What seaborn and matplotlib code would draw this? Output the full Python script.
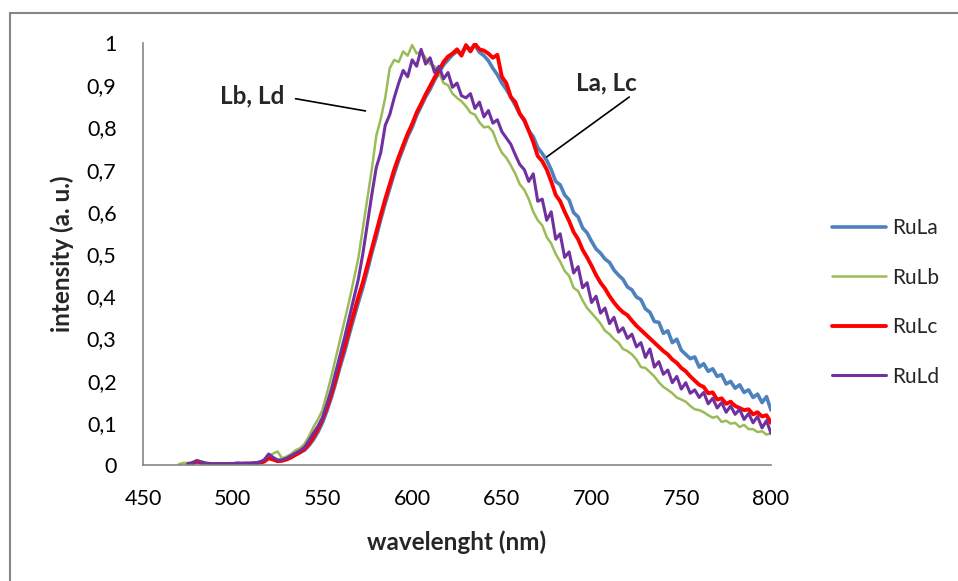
import numpy as np
import matplotlib
matplotlib.use("Agg")
import matplotlib.pyplot as plt
from matplotlib.patches import Rectangle
import seaborn as sns

# ----------------------------------------------------------------------------------
# Data (2.5 nm steps from 470 to 800 nm)

wavelength = np.arange(470, 800.1, 2.5)
nan = np.nan

ru_la = [
    nan, nan, 0.002, 0.004,
    0.010, 0.007, 0.004, 0.003,
    0.002, 0.003, 0.002, 0.003,
    0.003, 0.004, 0.003, 0.004,
    0.004, 0.005, 0.006, 0.009,
    0.020, 0.015, 0.010, 0.011,
    0.014, 0.018, 0.025, 0.030,
    0.035, 0.046, 0.060, 0.078,
    0.100, 0.128, 0.160, 0.196,
    0.235, 0.270, 0.310, 0.348,
    0.385, 0.420, 0.460, 0.502,
    0.540, 0.582, 0.620, 0.655,
    0.690, 0.722, 0.750, 0.778,
    0.800, 0.828, 0.850, 0.872,
    0.890, 0.912, 0.930, 0.948,
    0.960, 0.972, 0.980, 0.975,
    0.992, 0.985, 0.995, 0.978,
    0.970, 0.958, 0.940, 0.925,
    0.905, 0.890, 0.872, 0.852,
    0.832, 0.815, 0.792, 0.778,
    0.752, 0.738, 0.722, 0.700,
    0.672, 0.664, 0.640, 0.628,
    0.598, 0.588, 0.562, 0.550,
    0.530, 0.512, 0.502, 0.488,
    0.480, 0.462, 0.450, 0.440,
    0.422, 0.415, 0.398, 0.392,
    0.370, 0.362, 0.340, 0.338,
    0.312, 0.318, 0.290, 0.298,
    0.272, 0.262, 0.252, 0.256,
    0.232, 0.240, 0.222, 0.228,
    0.210, 0.214, 0.192, 0.198,
    0.182, 0.190, 0.172, 0.178,
    0.160, 0.168, 0.148, 0.162,
    0.130,
]

ru_lb = [
    0.002, 0.005, 0.005, 0.007,
    0.012, 0.008, 0.005, 0.004,
    0.003, 0.003, 0.003, 0.004,
    0.003, 0.004, 0.004, 0.004,
    0.004, 0.005, 0.007, 0.012,
    0.022, 0.027, 0.032, 0.016,
    0.020, 0.026, 0.035, 0.040,
    0.050, 0.068, 0.090, 0.108,
    0.130, 0.170, 0.210, 0.255,
    0.300, 0.345, 0.390, 0.440,
    0.490, 0.560, 0.630, 0.700,
    0.780, 0.820, 0.870, 0.940,
    0.960, 0.955, 0.980, 0.970,
    0.995, 0.975, 0.980, 0.965,
    0.950, 0.945, 0.930, 0.905,
    0.900, 0.880, 0.870, 0.862,
    0.850, 0.835, 0.830, 0.812,
    0.800, 0.802, 0.790, 0.762,
    0.740, 0.728, 0.710, 0.690,
    0.665, 0.652, 0.630, 0.600,
    0.580, 0.568, 0.540, 0.525,
    0.500, 0.482, 0.460, 0.448,
    0.420, 0.412, 0.390, 0.372,
    0.360, 0.348, 0.335, 0.318,
    0.310, 0.298, 0.290, 0.275,
    0.270, 0.262, 0.250, 0.232,
    0.230, 0.220, 0.210, 0.196,
    0.185, 0.178, 0.170, 0.160,
    0.155, 0.150, 0.140, 0.132,
    0.130, 0.125, 0.118, 0.112,
    0.115, 0.102, 0.105, 0.098,
    0.100, 0.090, 0.095, 0.085,
    0.085, 0.078, 0.080, 0.072,
    0.075,
]

ru_lc = [
    nan, nan, 0.001, 0.003,
    0.008, 0.005, 0.002, 0.002,
    0.001, 0.002, 0.002, 0.002,
    0.002, 0.003, 0.003, 0.003,
    0.003, 0.004, 0.005, 0.008,
    0.016, 0.013, 0.009, 0.010,
    0.013, 0.018, 0.024, 0.030,
    0.038, 0.050, 0.066, 0.085,
    0.108, 0.136, 0.168, 0.205,
    0.245, 0.282, 0.322, 0.360,
    0.398, 0.432, 0.472, 0.512,
    0.552, 0.592, 0.630, 0.665,
    0.700, 0.730, 0.758, 0.785,
    0.808, 0.835, 0.856, 0.878,
    0.898, 0.918, 0.935, 0.955,
    0.968, 0.975, 0.985, 0.970,
    0.995, 0.980, 0.998, 0.985,
    0.982, 0.975, 0.965, 0.972,
    0.920, 0.905, 0.872, 0.860,
    0.832, 0.818, 0.792, 0.765,
    0.732, 0.720, 0.700, 0.672,
    0.640, 0.625, 0.600, 0.578,
    0.552, 0.535, 0.510, 0.492,
    0.472, 0.450, 0.432, 0.418,
    0.400, 0.385, 0.372, 0.362,
    0.355, 0.342, 0.330, 0.320,
    0.310, 0.300, 0.290, 0.280,
    0.270, 0.262, 0.250, 0.242,
    0.230, 0.222, 0.210, 0.200,
    0.190, 0.185, 0.170, 0.172,
    0.155, 0.158, 0.145, 0.150,
    0.140, 0.135, 0.130, 0.132,
    0.120, 0.125, 0.115, 0.118,
    0.100,
]

ru_ld = [
    nan, nan, 0.003, 0.005,
    0.010, 0.007, 0.004, 0.003,
    0.003, 0.003, 0.003, 0.003,
    0.003, 0.004, 0.004, 0.004,
    0.004, 0.005, 0.007, 0.012,
    0.026, 0.018, 0.012, 0.012,
    0.016, 0.022, 0.028, 0.034,
    0.042, 0.058, 0.076, 0.092,
    0.112, 0.145, 0.180, 0.222,
    0.265, 0.305, 0.350, 0.395,
    0.440, 0.500, 0.570, 0.640,
    0.705, 0.740, 0.805, 0.830,
    0.870, 0.905, 0.935, 0.920,
    0.960, 0.945, 0.985, 0.950,
    0.965, 0.930, 0.945, 0.915,
    0.930, 0.895, 0.905, 0.875,
    0.870, 0.880, 0.845, 0.860,
    0.825, 0.840, 0.810, 0.818,
    0.790, 0.775, 0.760, 0.735,
    0.712, 0.700, 0.672, 0.690,
    0.625, 0.630, 0.580, 0.600,
    0.535, 0.548, 0.492, 0.505,
    0.455, 0.470, 0.420, 0.432,
    0.385, 0.400, 0.360, 0.372,
    0.335, 0.350, 0.315, 0.325,
    0.300, 0.310, 0.280, 0.290,
    0.255, 0.275, 0.232, 0.245,
    0.215, 0.225, 0.195, 0.210,
    0.180, 0.195, 0.170, 0.178,
    0.160, 0.172, 0.145, 0.158,
    0.135, 0.148, 0.125, 0.140,
    0.120, 0.132, 0.108, 0.122,
    0.100, 0.115, 0.088, 0.105,
    0.075,
]

series = ["RuLa", "RuLb", "RuLc", "RuLd"]
values = [ru_la, ru_lb, ru_lc, ru_ld]
colors = ["#4F81BD", "#9BBB59", "#FF0000", "#7030A0"]
widths = [2.6, 1.8, 2.8, 2.2]

y_ticks = [0, 0.1, 0.2, 0.3, 0.4, 0.5, 0.6, 0.7, 0.8, 0.9, 1]
y_tick_labels = ["0", "0,1", "0,2", "0,3", "0,4", "0,5", "0,6", "0,7", "0,8", "0,9", "1"]
x_ticks = [450, 500, 550, 600, 650, 700, 750, 800]

# ----------------------------------------------------------------------------------
# Plot

sns.set_theme(style="white")
plt.rcParams["font.family"] = ["Lato", "DejaVu Sans"]

fig = plt.figure(figsize=(9.58, 5.81), dpi=100)
ax = fig.add_axes([143 / 958, 1 - 465 / 581, (771 - 143) / 958, 422 / 581])

for name, vals, col, lw in zip(series, values, colors, widths):
    sns.lineplot(x=wavelength, y=np.array(vals, dtype=float), ax=ax,
                 color=col, linewidth=lw, label=name, sort=False)

ax.set_xlim(450, 800)
ax.set_ylim(0, 1)
ax.set_xticks(x_ticks)
ax.set_yticks(y_ticks)
ax.set_yticklabels(y_tick_labels)
ax.tick_params(axis="both", length=0, labelsize=15.5, colors="black")
ax.tick_params(axis="y", pad=19)
ax.tick_params(axis="x", pad=17)

for side in ["top", "right"]:
    ax.spines[side].set_visible(False)
for side in ["left", "bottom"]:
    ax.spines[side].set_color("#868686")
    ax.spines[side].set_linewidth(1.2)

ax.set_xlabel("wavelenght (nm)", fontsize=17.5, fontweight="bold", labelpad=16)
ax.set_ylabel("intensity (a. u.)", fontsize=17.5, fontweight="bold", labelpad=9)
ax.grid(False)

# labels with leader lines
ax.annotate("Lb, Ld", xy=(584, 0.84), xytext=(511, 0.875),
            fontsize=17.5, fontweight="bold", ha="center", va="center")
ax.plot([535, 574], [0.868, 0.839], color="black", linewidth=1.2)
ax.annotate("La, Lc", xy=(673, 0.73), xytext=(708, 0.905),
            fontsize=17.5, fontweight="bold", ha="center", va="center")
ax.plot([721, 675], [0.872, 0.73], color="black", linewidth=1.2)

ax.legend(loc="upper left", bbox_to_anchor=(832 / 958, 1 - 218 / 581),
          bbox_transform=fig.transFigure, frameon=False, fontsize=15,
          handlelength=2.6, handletextpad=0.3, labelspacing=1.42,
          borderpad=0, borderaxespad=0)

# outer chart border (runs off the right and bottom edges)
fig.patches.append(Rectangle((10 / 958, -0.05), 1.1, 1 - 13 / 581 + 0.05,
                             transform=fig.transFigure, fill=False,
                             edgecolor="#868686", linewidth=1.5))

fig.savefig("out.png", dpi=100)
